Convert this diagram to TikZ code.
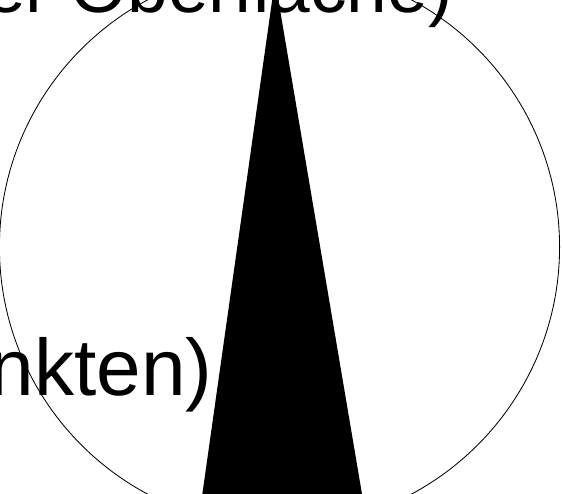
\documentclass[tikz,border=0pt]{standalone}
\usepackage{fontspec}
\setmainfont{Liberation Sans}

\begin{document}
\begin{tikzpicture}[x=0.025cm,y=-0.025cm,
  bigtext/.style={font=\fontsize{57}{68}\selectfont,inner sep=0pt},
  toptext/.style={font=\fontsize{52}{62}\selectfont,inner sep=0pt}]

% Frame of the view
\useasboundingbox (0,0) rectangle (563,493);
\clip (0,0) rectangle (563,493);

% Radius of the circle
\def\R{7cm}

% Circle
\coordinate (M) at (279.5,247);
\draw[line width=0.6pt] (M) circle [radius=\R];

% Spike
\coordinate (T) at (275,-20);
\coordinate (BL) at (201.5,500);
\coordinate (BR) at (363,500);
\fill (T) -- (BL) -- (BR) -- cycle;

% Labels
\node[toptext,anchor=base east] (upper) at (453,12) {der Oberfläche)};
\node[bigtext,anchor=base east] (lower) at (213,395) {Punkten)};

\end{tikzpicture}
\end{document}
